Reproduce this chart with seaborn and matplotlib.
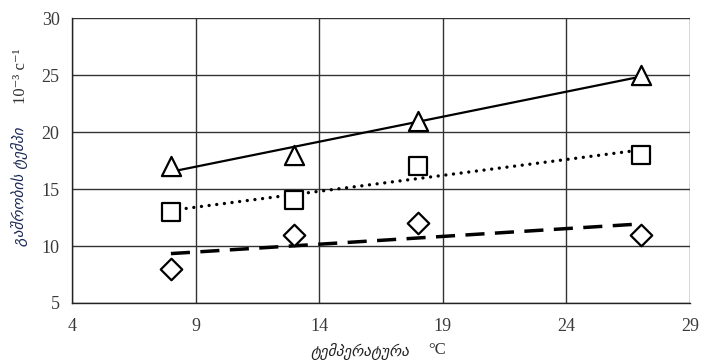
import numpy as np
import pandas as pd
import seaborn as sns
import matplotlib.pyplot as plt

# temperature (°C)
temperature = [8, 13, 18, 27]

# rate values, 10^-3 s^-1
series_triangle = [17, 18, 21, 25]
series_square = [13, 14, 17, 18]
series_diamond = [8, 11, 12, 11]

x_ticks = [4, 9, 14, 19, 24, 29]
y_ticks = [5, 10, 15, 20, 25, 30]

x_label = 'ტემპერატურა'
x_unit = '°C'
y_label = 'გაშრობის ტემპი'
y_unit = '10⁻³ с⁻¹'


def build_frame():
    rows = []
    for name, vals in [('tri', series_triangle), ('sq', series_square), ('dia', series_diamond)]:
        for t, v in zip(temperature, vals):
            rows.append({'series': name, 'temperature': t, 'rate': v})
    return pd.DataFrame(rows)


def main():
    sns.set_style('white')
    plt.rcParams['font.family'] = ['Liberation Serif', 'DejaVu Sans']

    df = build_frame()
    fig = plt.figure(figsize=(7.02, 3.62), dpi=100)
    ax = fig.add_axes([0.1026, 0.163, 0.8803, 0.787])

    # linear trend lines
    line_styles = {'tri': dict(ls='-', lw=1.6),
                   'sq': dict(ls=(0, (0.01, 2.3)), lw=2.4, dash_capstyle='round'),
                   'dia': dict(ls=(0, (5.5, 3)), lw=2.5)}
    for name, sub in df.groupby('series'):
        k, b = np.polyfit(sub['temperature'], sub['rate'], 1)
        xs = np.array([min(temperature), max(temperature)])
        trend = pd.DataFrame({'temperature': xs, 'rate': k * xs + b})
        sns.lineplot(data=trend, x='temperature', y='rate', ax=ax, color='black',
                     **line_styles[name])

    markers = {'tri': '^', 'sq': 's', 'dia': 'D'}
    sizes = {'tri': 190, 'sq': 170, 'dia': 120}
    for name, sub in df.groupby('series'):
        sns.scatterplot(data=sub, x='temperature', y='rate', ax=ax, marker=markers[name],
                        s=sizes[name], facecolor='white', edgecolor='black',
                        linewidth=1.6, zorder=5)

    ax.set_xlim(4, 29)
    ax.set_ylim(5, 30)
    ax.set_xticks(x_ticks)
    ax.set_yticks(y_ticks)
    ax.grid(True, color='#333333', linewidth=1.0)
    ax.set_axisbelow(True)
    for side in ['top', 'right']:
        ax.spines[side].set_visible(False)
    for side in ['left', 'bottom']:
        ax.spines[side].set_color('#222222')
        ax.spines[side].set_linewidth(1.0)
    ax.tick_params(axis='both', direction='out', length=5, width=1.0, color='#222222',
                   labelsize=13, labelcolor='#3a3a3a', pad=6)
    ax.tick_params(axis='y', pad=4)
    ax.set_xlabel('')
    ax.set_ylabel('')

    fig.text(0.513, 0.03, x_label, ha='center', va='center', fontsize=11,
             family='DejaVu Sans', style='italic', color='#222222')
    fig.text(0.622, 0.033, x_unit, ha='center', va='center', fontsize=12,
             color='#333333')
    fig.text(0.028, 0.485, y_label, ha='center', va='center', rotation=90,
             fontsize=11, family='DejaVu Sans', style='italic', color='#1c2a55')
    fig.text(0.03, 0.79, y_unit, ha='center', va='center', rotation=90,
             fontsize=12, color='#333333')

    fig.savefig('out.png', dpi=100)


if __name__ == '__main__':
    main()
